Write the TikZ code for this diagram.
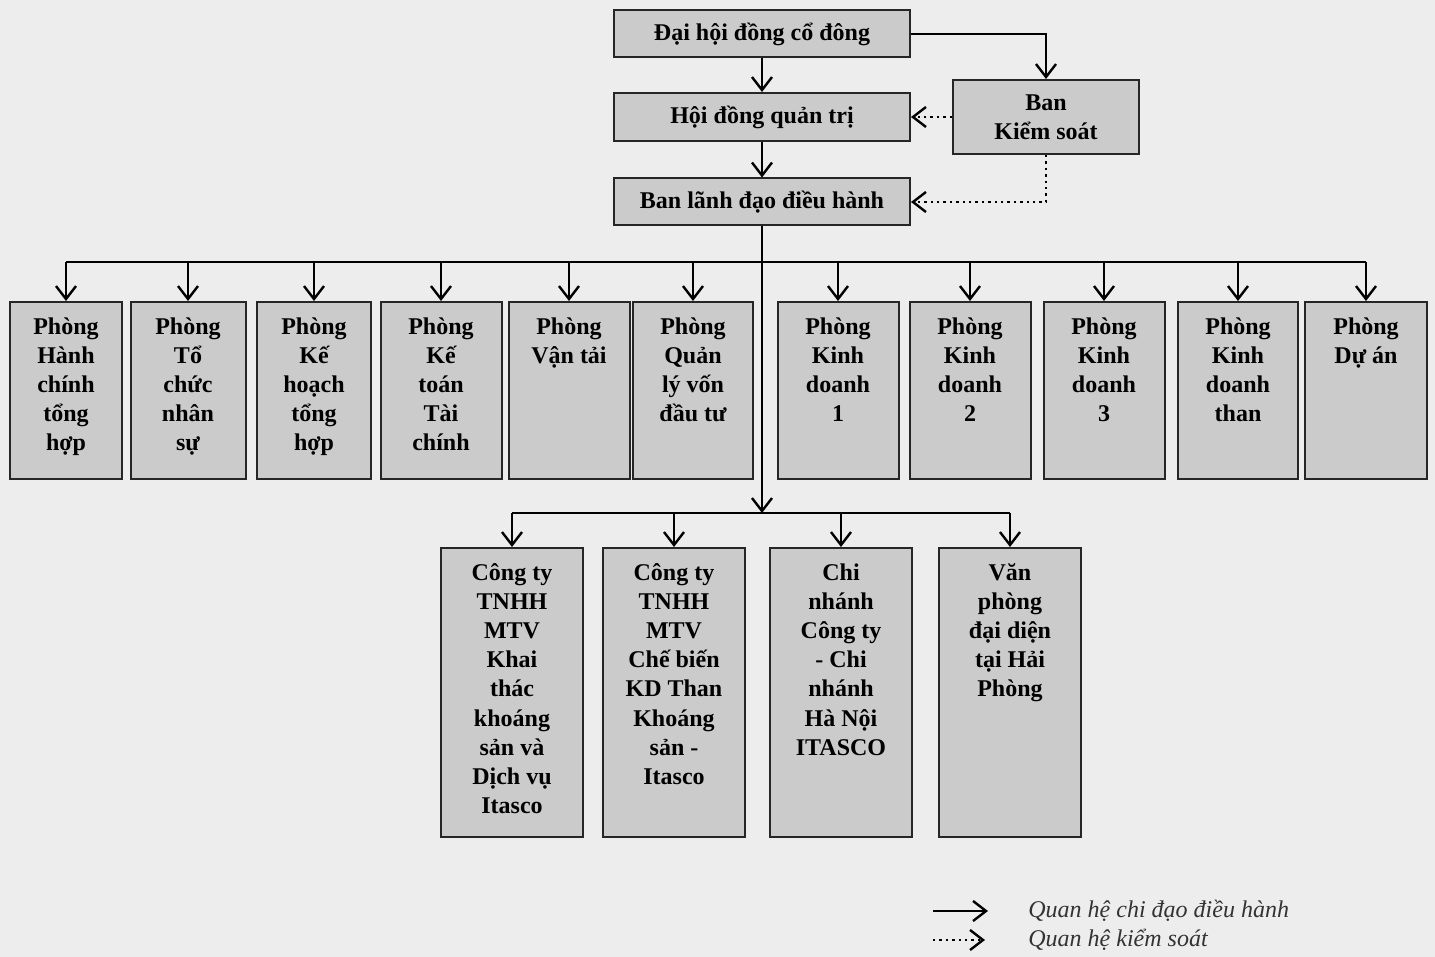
\documentclass[tikz,border=0pt]{standalone}
\usepackage{fontspec}
\setmainfont{Liberation Serif}
\usetikzlibrary{arrows.meta,positioning,calc}
\definecolor{BoxFill}{HTML}{CBCBCB}
\definecolor{PageBg}{HTML}{EDEDED}
\newcommand{\boxtext}[3]{\parbox[c][#2][t]{#1}{\centering\rule{0pt}{16pt}#3}}

\begin{document}
\begin{tikzpicture}[x=0.5pt,y=-0.5pt,
    unit/.style={draw=black!85, line width=1pt, fill=BoxFill, inner sep=0pt,
      font=\fontsize{12}{14.6}\selectfont\bfseries, align=center},
    flow/.style={line width=1.2pt, -{Straight Barb[length=6.5pt,width=10pt]}},
    ctrl/.style={flow, dotted},
    bus/.style={line width=1.3pt},
    legend/.style={font=\fontsize{12}{14}\selectfont\itshape, text=black!80, inner sep=0pt}]
  \fill[PageBg] (0,0) rectangle (1435,957);
  \useasboundingbox (0,0) rectangle (1435,957);

  % board and management
  \node[unit, minimum width=148pt, minimum height=23.5pt] (dhdcd) at (762,34) {Đại hội đồng cổ đông};
  \node[unit, minimum width=148pt, minimum height=24pt] (hdqt) at (762,117) {Hội đồng quản trị};
  \node[unit, minimum width=148pt, minimum height=23.5pt] (bldh) at (762,202) {Ban lãnh đạo điều hành};
  \node[unit, minimum width=93pt, minimum height=37pt] (bks) at (1046,117) {Ban\\Kiểm soát};

  \draw[flow] (dhdcd) -- (hdqt);
  \draw[flow] (hdqt) -- (bldh);
  \draw[flow] (dhdcd.east) -| (bks.north);
  \draw[ctrl] (bks.west) -- (hdqt.east);
  \draw[ctrl] (bks.south) |- (bldh.east);

  % departments
  \foreach \n/\cx/\w/\txt in {
      1/66/56pt/{Phòng\\Hành\\chính\\tổng\\hợp},
      2/188/57.5pt/{Phòng\\Tổ\\chức\\nhân\\sự},
      3/314/57pt/{Phòng\\Kế\\hoạch\\tổng\\hợp},
      4/441/60.5pt/{Phòng\\Kế\\toán\\Tài\\chính},
      5/569/60.5pt/{Phòng\\Vận tải},
      6/693/60pt/{Phòng\\Quản\\lý vốn\\đầu tư},
      7/838/60.5pt/{Phòng\\Kinh\\doanh\\1},
      8/970/60.5pt/{Phòng\\Kinh\\doanh\\2},
      9/1104/60.5pt/{Phòng\\Kinh\\doanh\\3},
      10/1238/60pt/{Phòng\\Kinh\\doanh\\than},
      11/1366/61pt/{Phòng\\Dự án}}
    \node[unit, anchor=north] (d\n) at (\cx,301) {\boxtext{\w}{88.5pt}{\txt}};

  % subsidiaries and branches
  \foreach \n/\cx/\txt in {
      1/512/{Công ty\\TNHH\\MTV\\Khai\\thác\\khoáng\\sản và\\Dịch vụ\\Itasco},
      2/674/{Công ty\\TNHH\\MTV\\Chế biến\\KD Than\\Khoáng\\sản -\\Itasco},
      3/841/{Chi\\nhánh\\Công ty\\- Chi\\nhánh\\Hà Nội\\ITASCO},
      4/1010/{Văn\\phòng\\đại diện\\tại Hải\\Phòng}}
    \node[unit, anchor=north] (c\n) at (\cx,547) {\boxtext{71pt}{144.5pt}{\txt}};

  \coordinate (busA) at (762,262);
  \coordinate (busB) at (762,513);
  \draw[bus] (bldh.south) -- (busA);
  \draw[bus] (busA -| d1) -- (busA -| d11);
  \foreach \n in {1,...,11}
    \draw[flow] (busA -| d\n) -- (d\n.north);
  \draw[flow] (busA) -- (busB);
  \draw[bus] (busB -| c1) -- (busB -| c4);
  \foreach \n in {1,...,4}
    \draw[flow] (busB -| c\n) -- (c\n.north);

  % legend
  \node[legend, anchor=west] (lgA) at (1028,911) {Quan hệ chi đạo điều hành};
  \node[legend, anchor=west] (lgB) at (1028,940) {Quan hệ kiểm soát};
  \coordinate (lgA0) at (933,911);
  \coordinate (lgA1) at (988,911);
  \coordinate (lgB0) at (933,940);
  \coordinate (lgB1) at (985,940);
  \draw[flow] (lgA0) -- (lgA1);
  \draw[ctrl] (lgB0) -- (lgB1);
\end{tikzpicture}
\end{document}
